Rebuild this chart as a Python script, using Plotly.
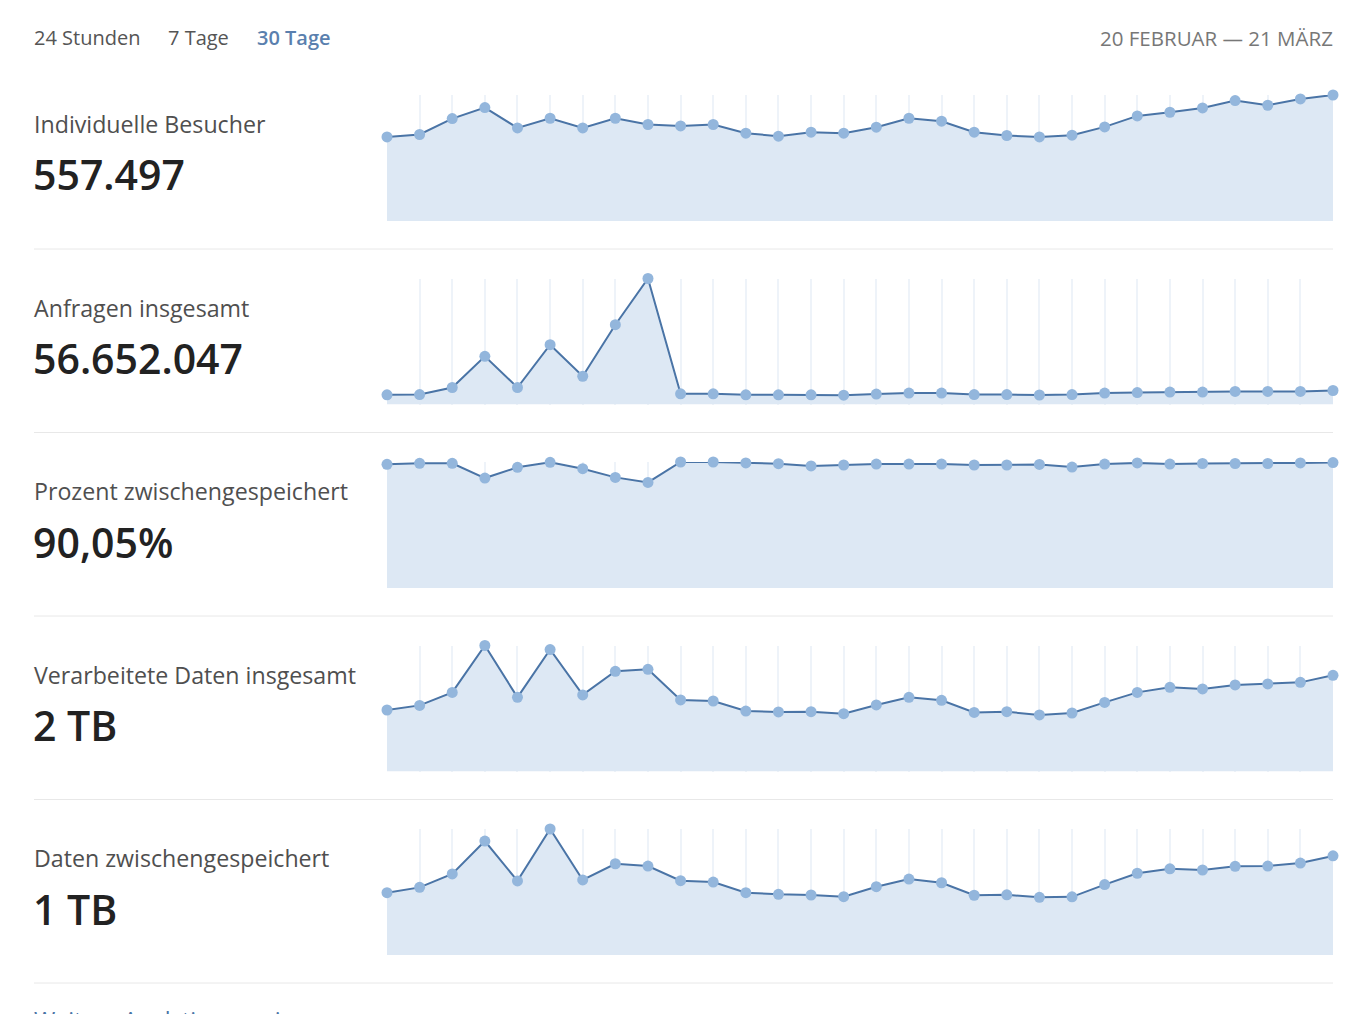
import plotly.graph_objects as go

W, H = 1362, 1014

# ---- data ----
ranges = ["24 Stunden", "7 Tage", "30 Tage"]
date_label = "20 FEBRUAR \u2014 21 M\u00c4RZ"
titles = ["Individuelle Besucher", "Anfragen insgesamt", "Prozent zwischengespeichert",
          "Verarbeitete Daten insgesamt", "Daten zwischengespeichert"]
totals = ["557.497", "56.652.047", "90,05%", "2 TB", "1 TB"]

visitors = [15850, 16300, 19300, 21380, 17540, 19360, 17540, 19360, 18180, 17920,
            18180, 16540, 15980, 16730, 16540, 17670, 19360, 18800, 16730, 16110,
            15850, 16170, 17730, 19800, 20490, 21300, 22690, 21810, 22990, 23740]
requests_m = [0.88, 0.90, 1.54, 4.37, 1.54, 5.42, 2.56, 7.23, 11.42, 0.97,
              0.97, 0.88, 0.88, 0.88, 0.84, 0.95, 1.04, 1.04, 0.90, 0.90,
              0.86, 0.90, 1.04, 1.08, 1.13, 1.13, 1.18, 1.18, 1.18, 1.27]
cached_pct = [90.9, 91.6, 91.6, 80.8, 88.7, 92.4, 87.7, 81.3, 77.6, 92.6,
              92.6, 91.9, 91.4, 89.7, 90.4, 91.1, 91.1, 91.1, 90.4, 90.4,
              90.8, 88.9, 91.1, 91.9, 91.1, 91.5, 91.5, 91.5, 91.9, 92.2]
processed_gb = [53.4, 57.4, 68.7, 109.4, 64.4, 105.9, 66.5, 87.0, 88.7, 62.1,
                61.2, 52.5, 51.7, 51.9, 50.2, 57.8, 64.4, 61.8, 51.3, 51.9,
                49.1, 50.8, 60.0, 68.7, 73.1, 71.7, 75.2, 76.0, 77.4, 83.5]
cached_gb = [26.9, 29.2, 35.0, 49.2, 32.0, 54.4, 32.4, 39.4, 38.4, 32.1,
             31.5, 26.9, 26.2, 25.9, 25.2, 29.5, 32.8, 31.2, 25.8, 26.0,
             24.9, 25.1, 30.4, 35.3, 37.2, 36.7, 38.3, 38.4, 39.7, 42.8]
series = [visitors, requests_m, cached_pct, processed_gb, cached_gb]
link_text = "Weitere Analytics anzeigen"

# ---- style ----
FONT = "Open Sans, Noto Sans, sans-serif"
LINE = "#4a74a6"
MARK = "#93b6dc"
FILL = "#dde8f4"
GRID = "#eef3f9"
SEP = "#e8e8e8"

def py(y):
    return 1 - y / H

def pxx(x):
    return x / W

PLOT_L, PLOT_R = 387, 1333
TOP0, PITCH, PH = 95, 183.5, 126

fig = go.Figure()
layout = dict(width=W, height=H, margin=dict(l=0, r=0, t=0, b=0),
              paper_bgcolor="white", plot_bgcolor="white", showlegend=False,
              font=dict(family=FONT))
annotations = []
shapes = []

for i, vals in enumerate(series):
    n = i + 1
    xa = "x" if n == 1 else f"x{n}"
    ya = "y" if n == 1 else f"y{n}"
    top = TOP0 + i * PITCH
    bot = top + PH
    xs = list(range(len(vals)))
    fig.add_trace(go.Scatter(
        x=xs, y=vals, xaxis=xa, yaxis=ya, mode="lines+markers",
        line=dict(color=LINE, width=2),
        marker=dict(color=MARK, size=11, line=dict(width=0)),
        fill="tozeroy", fillcolor=FILL, cliponaxis=False, hoverinfo="skip"))
    layout[f"xaxis{'' if n == 1 else n}"] = dict(
        domain=[pxx(PLOT_L), pxx(PLOT_R)], range=[0, len(vals) - 1],
        anchor=ya, showgrid=True, gridcolor=GRID, gridwidth=2,
        tick0=0, dtick=1, showticklabels=False, zeroline=False, showline=False,
        fixedrange=True)
    layout[f"yaxis{'' if n == 1 else n}"] = dict(
        domain=[py(bot), py(top)], range=[0, max(vals)], anchor=xa,
        showgrid=False, showticklabels=False, zeroline=False, showline=False,
        fixedrange=True)
    # title and total
    annotations.append(dict(text=titles[i], x=pxx(31.5), y=py(top + 29),
                            xref="paper", yref="paper", xanchor="left", yanchor="middle",
                            showarrow=False, font=dict(size=23.2, color="#4f4f4f", family=FONT)))
    annotations.append(dict(text=totals[i], x=pxx(31), y=py(top + 79.5),
                            xref="paper", yref="paper", xanchor="left", yanchor="middle",
                            showarrow=False,
                            font=dict(size=41, color="#222222", family=FONT, weight=600)))
    # separator
    sy = top + 154
    shapes.append(dict(type="line", xref="paper", yref="paper",
                       x0=pxx(34), x1=pxx(1333), y0=py(sy), y1=py(sy),
                       line=dict(color=SEP, width=1)))

# header
hx = [32, 166, 255]
for lbl, x in zip(ranges, hx):
    active = lbl == "30 Tage"
    annotations.append(dict(text=lbl, x=pxx(x), y=py(38), xref="paper", yref="paper",
                            xanchor="left", yanchor="middle", showarrow=False,
                            font=dict(size=20, color="#5a7fae" if active else "#555555",
                                      family=FONT, weight=600 if active else 400)))
annotations.append(dict(text=date_label, x=pxx(1335), y=py(38), xref="paper", yref="paper",
                        xanchor="right", yanchor="middle", showarrow=False,
                        font=dict(size=20.5, color="#777777", family=FONT)))
annotations.append(dict(text=link_text, x=pxx(31.5), y=py(1020), xref="paper", yref="paper",
                        xanchor="left", yanchor="middle", showarrow=False,
                        font=dict(size=23, color="#4a74a6", family=FONT)))

layout["annotations"] = annotations
layout["shapes"] = shapes
fig.update_layout(**layout)
fig.write_html("out.html", config={"displayModeBar": False})
